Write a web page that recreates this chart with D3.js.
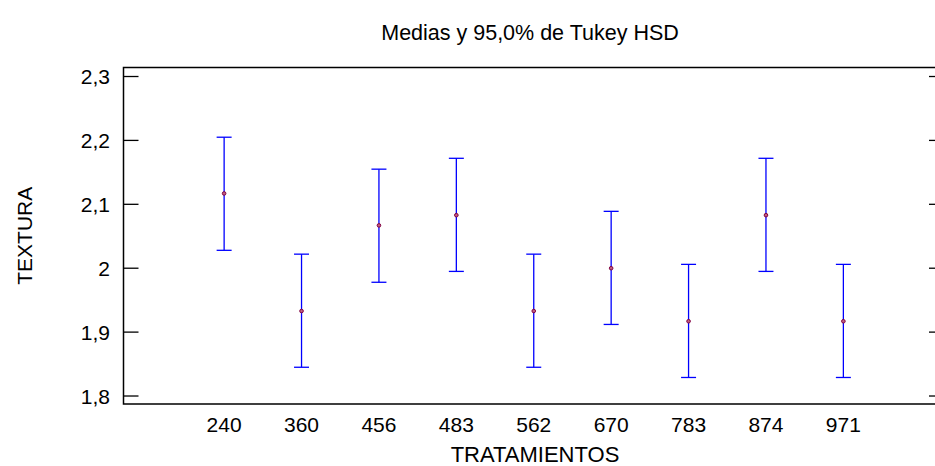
<!DOCTYPE html>
<html>
<head>
<meta charset="utf-8">
<script src="https://cdn.jsdelivr.net/npm/d3@7"></script>
<style>
  body { margin: 0; background: #fff; }
  text { font-family: "Liberation Sans", Arial, sans-serif; fill: #000; }
</style>
</head>
<body>
<svg></svg>
<script>
var tratamientos = ["240", "360", "456", "483", "562", "670", "783", "874", "971"];
var medias = [2.117, 1.933, 2.067, 2.083, 1.933, 2.000, 1.917, 2.083, 1.917];
var inferior = [2.028, 1.845, 1.978, 1.995, 1.845, 1.912, 1.829, 1.995, 1.829];
var superior = [2.205, 2.022, 2.155, 2.172, 2.022, 2.089, 2.006, 2.172, 2.006];
var yTicks = [1.8, 1.9, 2.0, 2.1, 2.2, 2.3];

var width = 935, height = 466;
var svg = d3.select("svg").attr("width", width).attr("height", height);

var mLeft = 123.5, mRight = 944, mTop = 67.5, mBottom = 404;

var x = d3.scalePoint()
    .domain(tratamientos)
    .range([mLeft, mRight])
    .padding(1.3);

var y = d3.scaleLinear()
    .domain([1.7875, 2.3141])
    .range([mBottom, mTop]);

function fmt(d) {
  var s = d3.format(".1f")(d);
  return s === "2.0" ? "2" : s.replace(".", ",");
}

// marco
svg.append("path")
    .attr("d", "M" + mRight + "," + mTop + "H" + mLeft + "V" + mBottom + "H" + mRight)
    .attr("fill", "none")
    .attr("stroke", "#000")
    .attr("stroke-width", 1.5);

// ticks izquierda y derecha
var ticks = svg.append("g").selectAll("g")
    .data(yTicks)
    .enter().append("g");

ticks.append("line")
    .attr("x1", mLeft).attr("x2", mLeft + 15)
    .attr("y1", function(d) { return y(d); })
    .attr("y2", function(d) { return y(d); })
    .attr("stroke", "#000").attr("stroke-width", 1.3);

ticks.append("line")
    .attr("x1", mRight - 15).attr("x2", mRight)
    .attr("y1", function(d) { return y(d); })
    .attr("y2", function(d) { return y(d); })
    .attr("stroke", "#000").attr("stroke-width", 1.3);

ticks.append("text")
    .attr("x", 110)
    .attr("y", function(d) { return y(d); })
    .attr("dy", "0.36em")
    .attr("text-anchor", "end")
    .style("font-size", "21px")
    .text(fmt);

// etiquetas x
svg.append("g").selectAll("text")
    .data(tratamientos)
    .enter().append("text")
    .attr("x", function(d) { return x(d); })
    .attr("y", 432)
    .attr("text-anchor", "middle")
    .style("font-size", "21px")
    .text(function(d) { return d; });

// barras de error
var bars = svg.append("g").selectAll("g")
    .data(tratamientos)
    .enter().append("g");

bars.append("line")
    .attr("x1", function(d) { return x(d); })
    .attr("x2", function(d) { return x(d); })
    .attr("y1", function(d, i) { return y(superior[i]); })
    .attr("y2", function(d, i) { return y(inferior[i]); })
    .attr("stroke", "#0000ff").attr("stroke-width", 1.3);

bars.append("line")
    .attr("x1", function(d) { return x(d) - 7.5; })
    .attr("x2", function(d) { return x(d) + 7.5; })
    .attr("y1", function(d, i) { return y(superior[i]); })
    .attr("y2", function(d, i) { return y(superior[i]); })
    .attr("stroke", "#0000ff").attr("stroke-width", 1.3);

bars.append("line")
    .attr("x1", function(d) { return x(d) - 7.5; })
    .attr("x2", function(d) { return x(d) + 7.5; })
    .attr("y1", function(d, i) { return y(inferior[i]); })
    .attr("y2", function(d, i) { return y(inferior[i]); })
    .attr("stroke", "#0000ff").attr("stroke-width", 1.3);

bars.append("circle")
    .attr("cx", function(d) { return x(d); })
    .attr("cy", function(d, i) { return y(medias[i]); })
    .attr("r", 1.8)
    .attr("fill", "#c06080")
    .attr("stroke", "#800040")
    .attr("stroke-width", 1);

// titulos
svg.append("text")
    .attr("x", 530)
    .attr("y", 40)
    .attr("text-anchor", "middle")
    .style("font-size", "21.5px")
    .text("Medias y 95,0% de Tukey HSD");

svg.append("text")
    .attr("x", 535)
    .attr("y", 462)
    .attr("text-anchor", "middle")
    .style("font-size", "22px")
    .text("TRATAMIENTOS");

svg.append("text")
    .attr("transform", "translate(31.5," + ((mTop + mBottom) / 2) + ") rotate(-90)")
    .attr("text-anchor", "middle")
    .style("font-size", "21px")
    .text("TEXTURA");
</script>
</body>
</html>
